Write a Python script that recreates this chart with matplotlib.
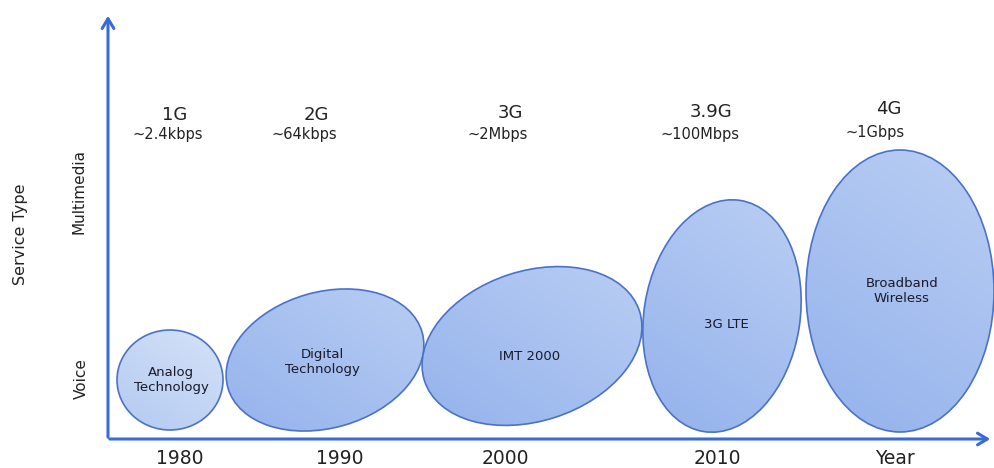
import numpy as np
import matplotlib
matplotlib.use("Agg")
import matplotlib.pyplot as plt
from matplotlib.patches import Ellipse

plt.rcParams['font.family'] = ['DejaVu Sans']

# datos del diagrama
generaciones = ["1G", "2G", "3G", "3.9G", "4G"]
velocidades = ["~2.4kbps", "~64kbps", "~2Mbps", "~100Mbps", "~1Gbps"]
tecnologias = ["Analog\nTechnology", "Digital\nTechnology", "IMT 2000", "3G LTE", "Broadband\nWireless"]
anios = ["1980", "1990", "2000", "2010", "Year"]
tipos = ["Voice", "Multimedia"]

# geometria de las elipses (pixeles, y hacia arriba)
cx = [170, 325, 532, 722, 900]
cy = [88, 108, 122, 152, 177]
anchos = [106, 202, 226, 156, 188]
altos = [100, 136, 150, 234, 282]
angulos = [0, 16, 18, -9, 0]
x_gen = [175, 316, 510, 711, 889]
y_gen = [353, 353, 355, 356, 359]
x_vel = [168, 304, 498, 700, 875]
y_vel = [333, 333, 334, 334, 336]
x_anio = [180, 340, 505, 717, 895]
x_tec = [171, 322, 530, 726, 902]
y_tec = [88, 106, 111, 143, 177]

W, H = 994, 468
fig = plt.figure(figsize=(W/100, H/100), dpi=100)
ax = fig.add_axes([0, 0, 1, 1])
ax.set_xlim(0, W)
ax.set_ylim(0, H)
ax.axis("off")

azul = "#3a6ad6"
# ejes con flechas
flecha = dict(arrowstyle="->,head_length=0.5,head_width=0.3", color=azul, lw=2.2, mutation_scale=14)
ax.annotate("", xy=(108, 455), xytext=(108, 28), arrowprops=flecha)
ax.annotate("", xy=(993, 29), xytext=(107, 29), arrowprops=flecha)

# gradiente para rellenar
gx, gy = np.meshgrid(np.linspace(0, 1, 200), np.linspace(0, 1, 200))
grad = 0.6*gy + 0.4*gx
cmap = matplotlib.colors.LinearSegmentedColormap.from_list("az", ["#90afeb", "#bdd1f4"])
cmap1 = matplotlib.colors.LinearSegmentedColormap.from_list("az1", ["#b0c8f1", "#d8e4f8"])

for i in range(len(tecnologias)):
    z = 2 + 2*i
    e = Ellipse((cx[i], cy[i]), anchos[i], altos[i], angle=angulos[i],
                facecolor="none", edgecolor="#4a72c8", lw=1.2, zorder=z+1)
    ax.add_patch(e)
    r = max(anchos[i], altos[i])/2 + 5
    im = ax.imshow(grad, cmap=cmap if i > 0 else cmap1,
                   extent=(cx[i]-r, cx[i]+r, cy[i]-r, cy[i]+r), origin="lower", zorder=z, aspect="auto")
    im.set_clip_path(e)
    ax.text(x_tec[i], y_tec[i], tecnologias[i], ha="center", va="center",
            fontsize=9.5, color="#1a1a2a", linespacing=1.2, zorder=20)
    ax.text(x_gen[i], y_gen[i], generaciones[i], ha="center", va="center", fontsize=13, color="#222222")
    ax.text(x_vel[i], y_vel[i], velocidades[i], ha="center", va="center", fontsize=10.5, color="#222222")
    ax.text(x_anio[i], 10, anios[i], ha="center", va="center", fontsize=13.5, color="#222222")

ax.set_xlim(0, W)
ax.set_ylim(0, H)
ax.text(21, 234, "Service Type", rotation=90, ha="center", va="center", fontsize=11.5, color="#222222")
ax.text(81, 89, tipos[0], rotation=90, ha="center", va="center", fontsize=11, color="#222222")
ax.text(79, 276, tipos[1], rotation=90, ha="center", va="center", fontsize=11, color="#222222")

fig.savefig("out.png", dpi=100)
